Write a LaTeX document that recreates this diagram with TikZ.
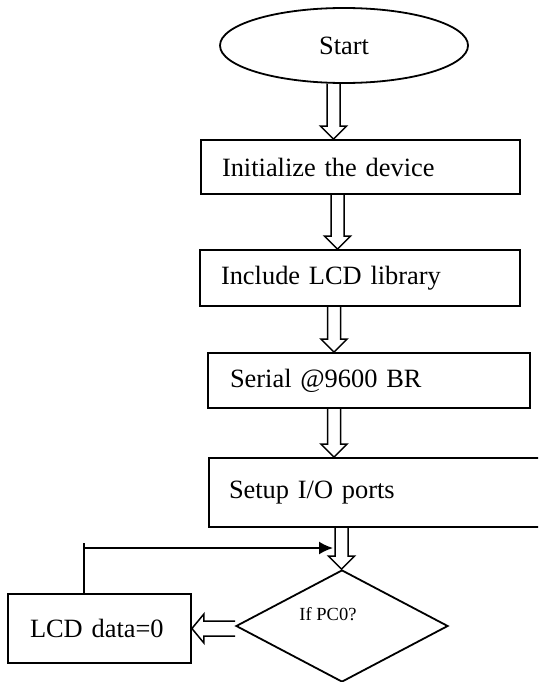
\documentclass[tikz,border=0pt]{standalone}
\usepackage{fontspec}
\setmainfont{Liberation Serif}
\usetikzlibrary{shapes.geometric,arrows.meta,calc}

\newcommand{\flowfont}{\fontsize{26.4}{30}\selectfont}
\newcommand{\smallflowfont}{\fontsize{18.5}{21}\selectfont}

% hollow block arrow pointing down: from, to, x position
\newcommand{\hollowdown}[3]{%
  \draw[hollow] let \p1=(#1), \p2=(#2), \p3=(#3,0) in
    (\x3-6.5pt,\y1) -- (\x3-6.5pt,\y2+13pt) -- (\x3-13pt,\y2+13pt)
    -- (\x3,\y2) -- (\x3+13pt,\y2+13pt) -- (\x3+6.5pt,\y2+13pt) -- (\x3+6.5pt,\y1);}

% hollow block arrow pointing left: from, to
\newcommand{\hollowleft}[2]{%
  \draw[hollow] let \p1=(#1), \p2=(#2) in
    (\x1,\y2+7.5pt) -- (\x2+12pt,\y2+7.5pt) -- (\x2+12pt,\y2+14.5pt)
    -- (\p2) -- (\x2+12pt,\y2-14.5pt) -- (\x2+12pt,\y2-7.5pt) -- (\x1,\y2-7.5pt);}

\begin{document}
\begin{tikzpicture}[
    x=1pt, y=-1pt,
    line width=1.8pt,
    every node/.style={font=\flowfont},
    terminal/.style={draw, ellipse, inner sep=0pt, minimum width=248pt, minimum height=75pt},
    stepbox/.style={draw, rectangle, align=left, inner xsep=21pt, minimum height=55pt},
    decision/.style={draw, diamond, inner sep=0pt, minimum width=212pt, minimum height=112pt},
    hollow/.style={draw, line width=1.5pt, line join=miter}
  ]
    \path[use as bounding box, clip] (0,0) rectangle (538,682);

    % Start
    \node[terminal] (start) at (344,45.5) {Start};

    % Steps
    \node[stepbox, text width=277pt, minimum height=54pt] (init) at (360.5,167) {Initialize the device};
    \node[stepbox, text width=278pt, minimum height=56pt] (lib) at (360,278) {Include LCD library};
    \node[stepbox, text width=278pt, inner xsep=22pt] (serial) at (369,380.5) {Serial @9600 BR};
    \node[stepbox, text width=296pt, inner xsep=20pt, minimum height=69pt] (ports) at (377,492.5) {Setup I/O ports};

    % Decision
    \node[decision, label={[font=\smallflowfont, xshift=-14pt, yshift=12pt]center:If PC0?}] (dec) at (342,626) {};
    \node[stepbox, text width=139pt, inner xsep=22pt, minimum height=69pt] (lcd) at (99.5,628.5) {LCD data=0};

    % Block arrows
    \hollowdown{start.south}{init.north}{333.5}
    \hollowdown{init.south}{lib.north}{337.5}
    \hollowdown{lib.south}{serial.north}{334}
    \hollowdown{serial.south}{ports.north}{334}
    \hollowdown{ports.south}{dec.north}{341.5}
    \hollowleft{dec.west}{lcd.east}

    % Loop back
    \coordinate (tick) at (84,543);
    \coordinate (back) at (333,548);
    \draw (lcd.north -| tick) -- (tick);
    \draw[-{Latex[length=14pt,width=13pt]}] (tick |- back) -- (back);
\end{tikzpicture}
\end{document}
